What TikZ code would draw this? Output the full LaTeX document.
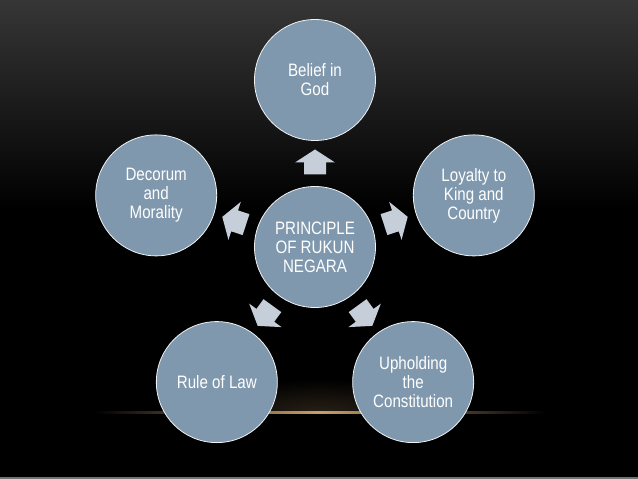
\documentclass[tikz,border=0pt]{standalone}
\usepackage{fontspec}
\newfontfamily\labfont[FakeStretch=0.84]{Liberation Sans}
\usetikzlibrary{calc}
\definecolor{bubble}{RGB}{127,152,173}
\definecolor{arrowc}{RGB}{198,206,217}
\definecolor{bgtop}{RGB}{54,54,54}
\definecolor{gold}{RGB}{200,160,100}
\definecolor{glow}{RGB}{40,32,22}
\definecolor{edgegray}{RGB}{115,115,115}
\begin{document}
\begin{tikzpicture}[x=1pt,y=1pt,
  bubblenode/.style={circle, fill=bubble, draw=white!88!bubble, line width=0.8pt,
    minimum size=121pt, inner sep=0pt, text=white, align=center,
    font=\labfont\fontsize{18}{19}\selectfont},
  blockarrow/.style={fill=arrowc}]
\useasboundingbox (0,0) rectangle (638,479);
\fill[black] (0,0) rectangle (638,479);
\shade[top color=bgtop, bottom color=black] (0,479) rectangle (638,270);
\begin{scope}
  \clip (0,66) rectangle (638,120);
  \shade[inner color=glow, outer color=black] (320,66) ellipse [x radius=130, y radius=34];
\end{scope}
\shade[left color=black, right color=black, middle color=gold] (95,65) rectangle (545,67.2);
\fill[edgegray] (0,0) rectangle (638,2);

\coordinate (o) at (315,232);
\node[bubblenode] (ctr) at (o) {PRINCIPLE\\OF RUKUN\\NEGARA};
\node[bubblenode] (god) at ($(o)+(90:167)$) {Belief in\\God};
\node[bubblenode] (king) at ($(o)+(18:167)$) {Loyalty to\\King and\\Country};
\node[bubblenode] (const) at ($(o)+(-54:167)$) {Upholding\\the\\Constitution};
\node[bubblenode] (law) at ($(o)+(-126:167)$) {Rule of Law};
\node[bubblenode] (moral) at ($(o)+(162:167)$) {Decorum\\and\\Morality};

\foreach \a/\n in {90/a1,18/a2,-54/a3,-126/a4,162/a5} {
  \coordinate (\n) at ($(o)+(\a:85)$);
  \fill[blockarrow, shift={(\n)}, rotate=\a]
    (12.5,0) -- (-0.5,20) -- (-0.5,11) -- (-12.5,11) -- (-12.5,-11)
    -- (-0.5,-11) -- (-0.5,-20) -- cycle;
}
\end{tikzpicture}
\end{document}
